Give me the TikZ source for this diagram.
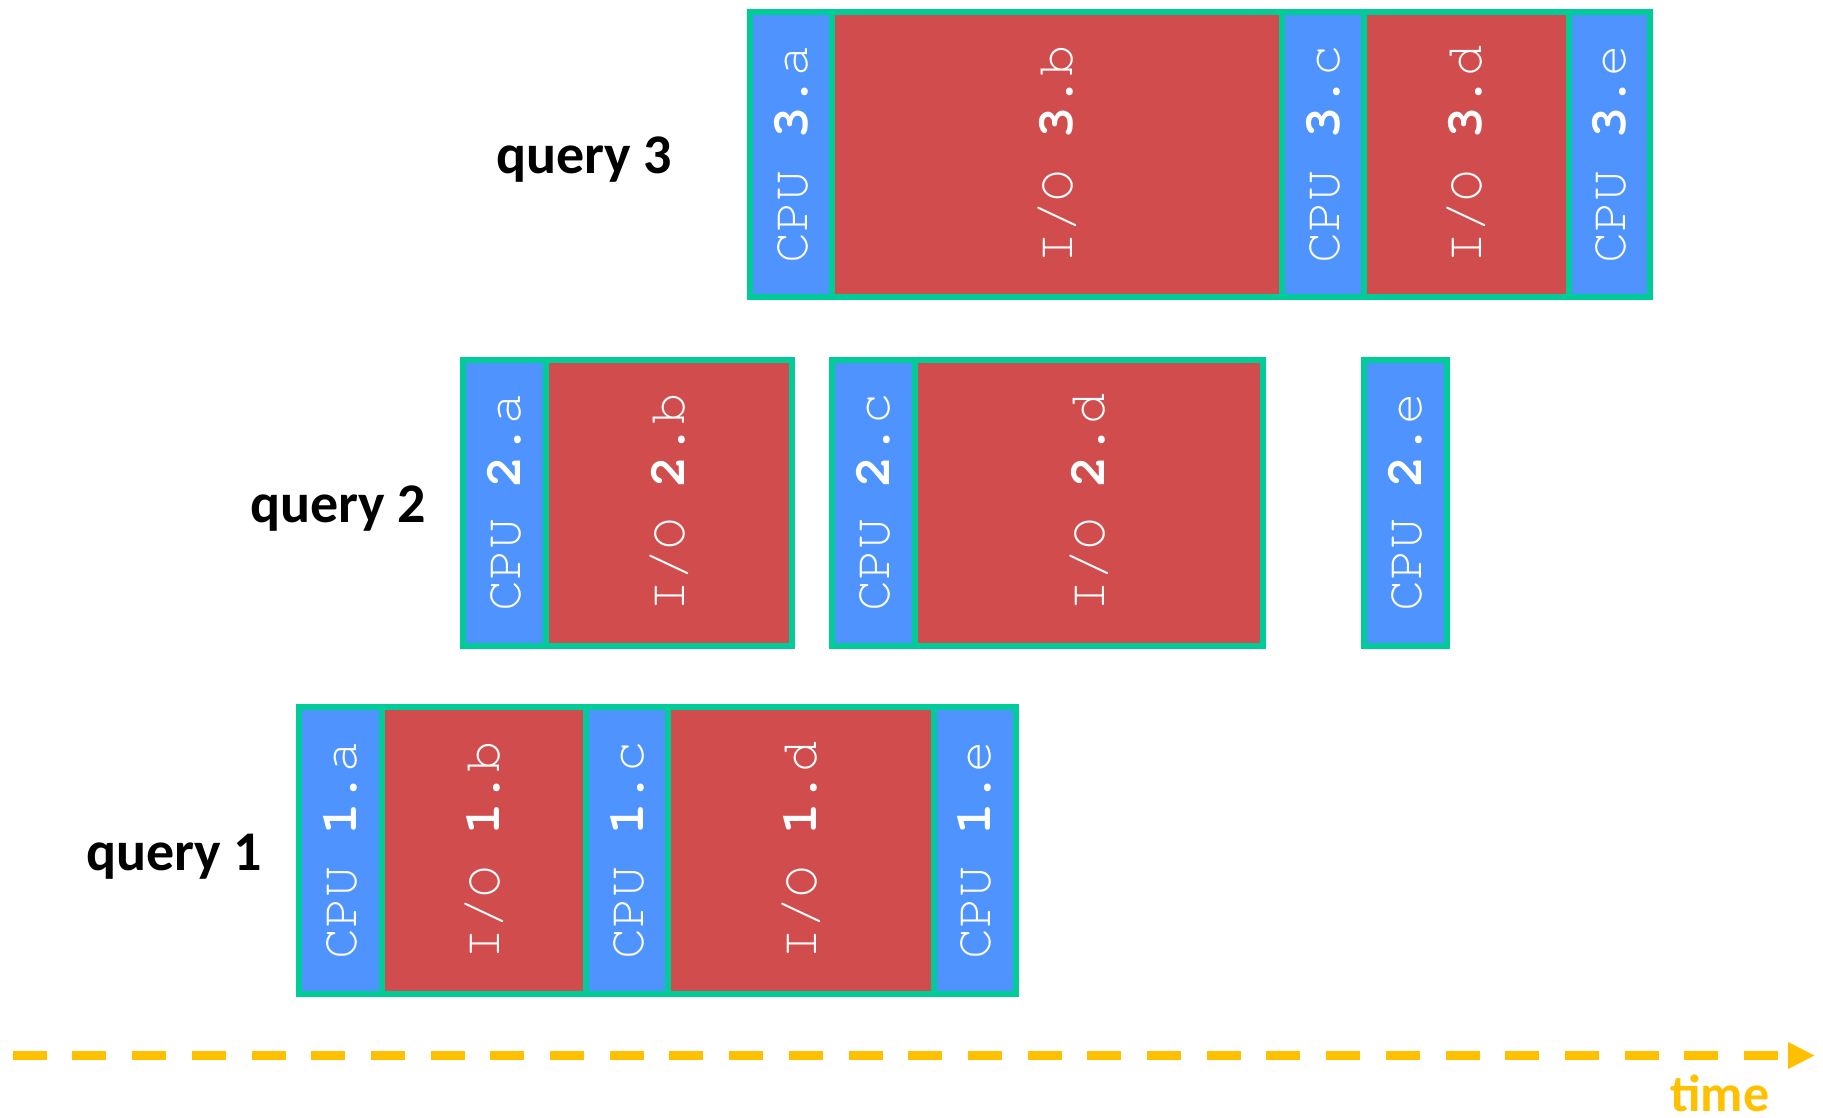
\documentclass[tikz,border=0pt]{standalone}
\usepackage{fontspec}
\setmonofont{TeX Gyre Cursor}
\newfontfamily\labfont{Carlito}
\usetikzlibrary{arrows.meta}
\definecolor{cpublue}{RGB}{79,147,255}
\definecolor{iored}{RGB}{209,77,77}
\definecolor{bordergreen}{RGB}{0,204,153}
\definecolor{timeorange}{RGB}{255,192,0}
\tikzset{
  blockbase/.style={rotate=90, draw=bordergreen, line width=6pt, inner sep=0pt, outer sep=0pt,
    text=white, font=\ttfamily\fontsize{52}{52}\selectfont},
  cpublock/.style={blockbase, fill=cpublue},
  ioblock/.style={blockbase, fill=iored},
  querylabel/.style={anchor=base west, inner sep=0pt, font=\labfont\bfseries\fontsize{56}{56}\selectfont},
  timearrow/.style={draw=timeorange, line width=9pt, dash pattern=on 34pt off 25.7pt,
    -{Triangle[length=27pt,width=25pt]}},
  timelabel/.style={anchor=base, inner sep=0pt, text=timeorange, font=\labfont\bfseries\fontsize{52}{52}\selectfont}
}
% #1 style, #2 name, #3 center x, #4 center y, #5 box width, #6 box height, #7 text
\newcommand\qblock[7]{\node[#1, minimum width=#6pt, minimum height=#5pt] (#2) at (#3,#4) {#7};}
\begin{document}
\begin{tikzpicture}[x=1pt,y=-1pt]
\useasboundingbox (0,0) rectangle (1823,1118);
% query 3
\qblock{cpublock}{c3a}{791}{154.5}{82}{285}{CPU {\bfseries 3}.a}
\qblock{ioblock}{io3b}{1057}{154.5}{450}{285}{I/O {\bfseries 3}.b}
\qblock{cpublock}{c3c}{1323}{154.5}{82}{285}{CPU {\bfseries 3}.c}
\qblock{ioblock}{io3d}{1466.5}{154.5}{205}{285}{I/O {\bfseries 3}.d}
\qblock{cpublock}{c3e}{1609.5}{154.5}{81}{285}{CPU {\bfseries 3}.e}
% query 2
\qblock{cpublock}{c2a}{504.5}{502.75}{83}{286.5}{CPU {\bfseries 2}.a}
\qblock{ioblock}{io2b}{669}{502.75}{246}{286.5}{I/O {\bfseries 2}.b}
\qblock{cpublock}{c2c}{873.5}{502.75}{83}{286.5}{CPU {\bfseries 2}.c}
\qblock{ioblock}{io2d}{1089}{502.75}{348}{286.5}{I/O {\bfseries 2}.d}
\qblock{cpublock}{c2e}{1405.25}{502.75}{82.5}{286.5}{CPU {\bfseries 2}.e}
% query 1
\qblock{cpublock}{c1a}{340.5}{850.5}{82.4}{287}{CPU {\bfseries 1}.a}
\qblock{ioblock}{io1b}{483.85}{850.5}{204.3}{287}{I/O {\bfseries 1}.b}
\qblock{cpublock}{c1c}{627}{850.5}{82}{287}{CPU {\bfseries 1}.c}
\qblock{ioblock}{io1d}{800.8}{850.5}{265.6}{287}{I/O {\bfseries 1}.d}
\qblock{cpublock}{c1e}{974.8}{850.5}{82.4}{287}{CPU {\bfseries 1}.e}
% labels
\node[querylabel] (q3) at (496,174) {query 3};
\node[querylabel] (q2) at (250,522.5) {query 2};
\node[querylabel] (q1) at (86,870.5) {query 1};
% time axis
\coordinate (tstart) at (12.7,1055.5);
\coordinate (tend) at (1815,1055.5);
\draw[timearrow] (tstart) -- (tend);
\node[timelabel] (tlabel) at (1720,1111) {time};
\end{tikzpicture}
\end{document}
